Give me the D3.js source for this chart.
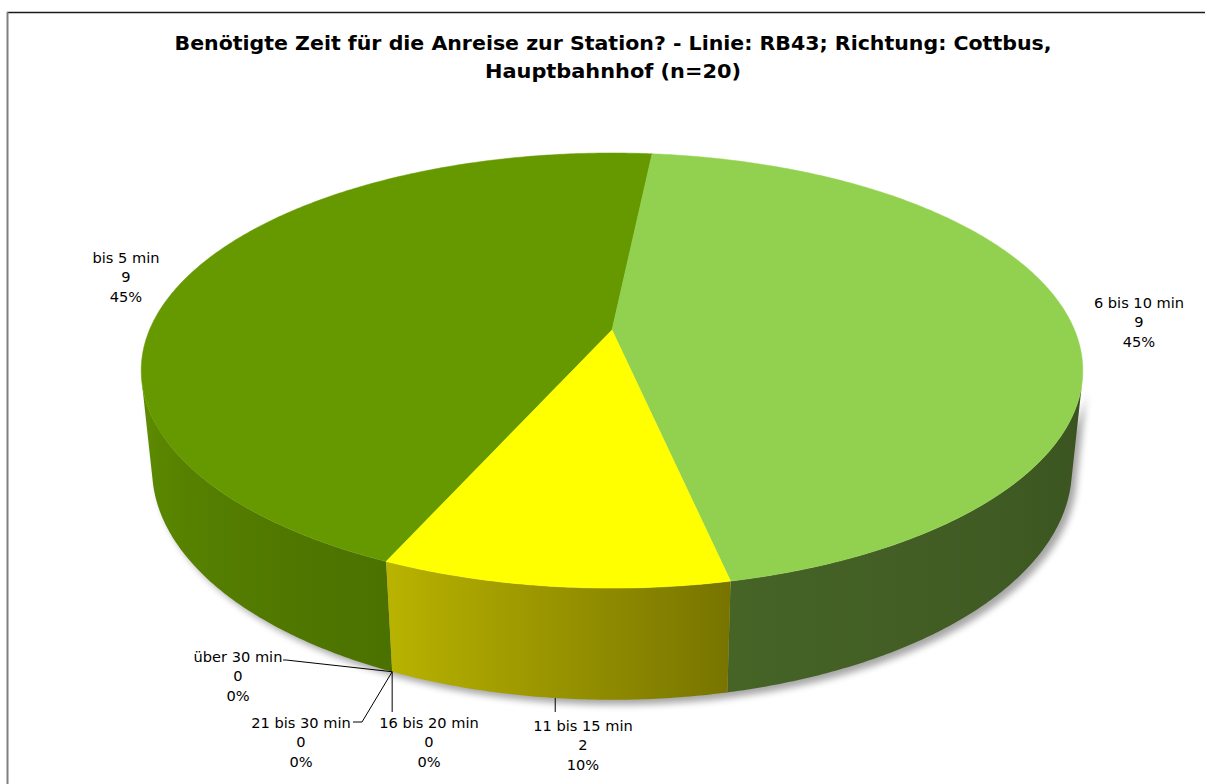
<!DOCTYPE html>
<html>
<head>
<meta charset="utf-8">
<script src="https://cdn.jsdelivr.net/npm/d3@7"></script>
<style>
  html, body { margin: 0; padding: 0; background: #ffffff; }
  svg { display: block; }
  text { font-family: "DejaVu Sans", Verdana, sans-serif; fill: #000; }
</style>
</head>
<body>
<svg id="chart" width="1205" height="784"></svg>
<script>
// Antwortkategorien und Anzahl der Nennungen
const categories = ["bis 5 min", "6 bis 10 min", "11 bis 15 min", "16 bis 20 min", "21 bis 30 min", "über 30 min"];
const counts = [9, 9, 2, 0, 0, 0];
const topColors = ["#669900", "#92D050", "#FFFF00", "#4F81BD", "#C0504D", "#8064A2"];
const titleLines = [
  "Benötigte Zeit für die Anreise zur Station? - Linie: RB43; Richtung: Cottbus,",
  "Hauptbahnhof (n=20)"
];

const W = 1205, H = 784;
const svg = d3.select("#chart");
const defs = svg.append("defs");

// Rahmen
svg.append("line").attr("x1", 7).attr("y1", 12.5).attr("x2", W).attr("y2", 12.5)
  .attr("stroke", "#1a1a1a").attr("stroke-width", 1.5);
svg.append("line").attr("x1", 7.5).attr("y1", 12).attr("x2", 7.5).attr("y2", H)
  .attr("stroke", "#808080").attr("stroke-width", 2);

// Titel
const titleWidths = [877, 256];
titleLines.forEach((t, i) => {
  svg.append("text")
    .attr("x", 613).attr("y", 43 + i * 28)
    .attr("text-anchor", "middle").attr("dominant-baseline", "central")
    .attr("font-weight", "bold").attr("font-size", 19.5)
    .attr("textLength", titleWidths[i]).attr("lengthAdjust", "spacingAndGlyphs")
    .text(t);
});

// Perspektivische Projektion der 3D-Torte
const cam = { cx: 612, cy: 330, S: 2211, D: 4.78, tilt: 27 * Math.PI / 180, depth: 0.241 };
const sT = Math.sin(cam.tilt), cT = Math.cos(cam.tilt);
function proj(angDeg, r, h) {
  const a = angDeg * Math.PI / 180;
  const u = r * Math.sin(a), v = -r * Math.cos(a);
  const y = v * sT + h * cT;
  const z = cam.D - v * cT + h * sT;
  return [cam.cx + cam.S * u / z, cam.cy + cam.S * y / z];
}

const total = d3.sum(counts);
const startAngle = 203.9;
const pie = d3.pie().sort(null).value(d => d)
  .startAngle(startAngle * Math.PI / 180)
  .endAngle((startAngle + 360) * Math.PI / 180);
const arcs = pie(counts).map((d, i) => ({
  i, value: d.value,
  a0: d.startAngle * 180 / Math.PI,
  a1: d.endAngle * 180 / Math.PI
}));

// sichtbarer Bereich der Mantelfläche
const visLimit = Math.acos(-1 / (cam.D * cT)) * 180 / Math.PI;
const visMin = visLimit, visMax = 360 - visLimit;
const norm = a => ((a % 360) + 360) % 360;

// Helligkeit der Mantelfläche abhängig vom Winkel
const shade = d3.scaleLinear().domain([104, 168, 204, 256]).range([0.40, 0.48, 0.74, 0.91]).clamp(true);
function shadeColor(hex, f, i) {
  const c = d3.rgb(hex);
  if (i === 2) return d3.rgb(c.r * f * 0.98, c.g * f * 0.95, c.b * f);
  return d3.rgb(c.r * f, c.g * f, c.b * f);
}

const line = d3.line();

// Schatten unter der Torte
defs.append("filter").attr("id", "pieShadow").attr("x", "-10%").attr("y", "-10%").attr("width", "120%").attr("height", "130%")
  .append("feGaussianBlur").attr("stdDeviation", 3.5);
const shadowPts = [];
for (let a = visMin; a <= visMax; a += 1) shadowPts.push(proj(a, 1, 0));
for (let a = visMax; a >= visMin; a -= 1) shadowPts.push(proj(a, 1, cam.depth));
svg.append("path").attr("d", line(shadowPts) + "Z")
  .attr("transform", "translate(5,5)")
  .attr("fill", "#000").attr("opacity", 0.35).attr("filter", "url(#pieShadow)");

// Mantelflächen mit horizontalem Farbverlauf
const wallG = svg.append("g");
arcs.forEach(d => {
  if (d.value === 0) return;
  // sichtbaren Winkelbereich der Scheibe bestimmen
  let lo = null, hi = null;
  for (let a = d.a0; a <= d.a1 + 1e-6; a += 0.25) {
    const m = norm(a);
    if (m >= visMin - 0.5 && m <= visMax + 0.5) {
      if (lo === null) lo = a;
      hi = a;
    }
  }
  if (lo === null) return;
  hi = Math.min(hi, d.a1);
  const angles = d3.range(lo, hi, 0.5).concat([hi]);
  const top = angles.map(a => proj(a, 1, 0));
  const bot = angles.map(a => proj(a, 1, cam.depth)).reverse();
  const xs = top.map(p => p[0]);
  const x0 = d3.min(xs), x1 = d3.max(xs);
  const gid = "wall" + d.i;
  const grad = defs.append("linearGradient").attr("id", gid)
    .attr("gradientUnits", "userSpaceOnUse")
    .attr("x1", x0).attr("y1", 0).attr("x2", x1).attr("y2", 0);
  const samples = angles.filter((a, k) => k % 4 === 0 || k === angles.length - 1);
  samples.map(a => ({ x: proj(a, 1, cam.depth * 0.5)[0], a }))
    .sort((p, q) => p.x - q.x)
    .forEach(p => {
      grad.append("stop")
        .attr("offset", Math.max(0, Math.min(1, (p.x - x0) / (x1 - x0 || 1))))
        .attr("stop-color", shadeColor(topColors[d.i], shade(norm(p.a)), d.i));
    });
  wallG.append("path").attr("d", line(top.concat(bot)) + "Z")
    .attr("fill", "url(#" + gid + ")");
});

// Deckflächen
const topG = svg.append("g");
arcs.forEach(d => {
  if (d.value === 0) return;
  const pts = [proj(0, 0, 0)];
  const angles = d3.range(d.a0, d.a1, 0.5).concat([d.a1]);
  angles.forEach(a => pts.push(proj(a, 1, 0)));
  topG.append("path").attr("d", line(pts) + "Z")
    .attr("fill", topColors[d.i]).attr("stroke", topColors[d.i]).attr("stroke-width", 0.5);
});

// Beschriftungen
const pct = d3.format(".0%");
const labelLayout = [
  { x: 126, y: 257, leader: null },
  { x: 1139, y: 302, leader: null },
  { x: 583, y: 725, leader: [[null, 712]] },
  { x: 429, y: 722, leader: [[null, 712]] },
  { x: 301, y: 722, leader: [[362, 722], [353, 722]] },
  { x: 238, y: 656, leader: [[286, 660], [283, 660]] }
];
const lblG = svg.append("g");
arcs.forEach(d => {
  const L = labelLayout[d.i];
  const mid = (d.a0 + d.a1) / 2;
  if (L.leader) {
    const anchor = proj(mid, 1, cam.depth);
    const pts = [anchor].concat(L.leader.map(p => [p[0] === null ? anchor[0] : p[0], p[1]]));
    lblG.append("path").attr("d", line(pts)).attr("fill", "none")
      .attr("stroke", "#000").attr("stroke-width", 1);
  }
  const lines = [categories[d.i], String(counts[d.i]), pct(counts[d.i] / total)];
  lines.forEach((t, k) => {
    lblG.append("text")
      .attr("x", L.x).attr("y", L.y + k * 19.7)
      .attr("text-anchor", "middle").attr("dominant-baseline", "central")
      .attr("font-size", 14.6)
      .text(t);
  });
});
</script>
</body>
</html>
